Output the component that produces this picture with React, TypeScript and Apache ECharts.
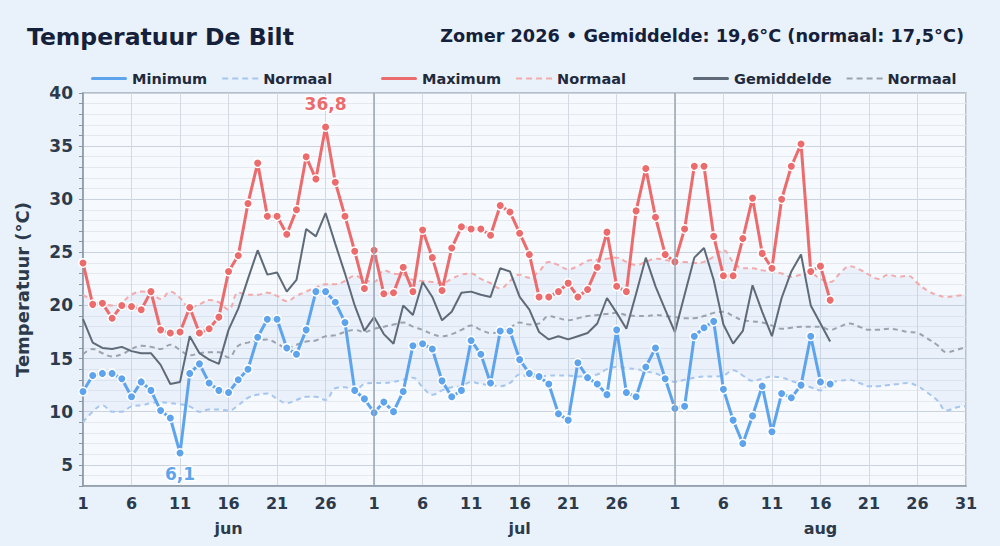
import React, { useEffect, useRef } from "react";
import * as echarts from "echarts";

const monthNames = ["jun", "jul", "aug"];
const monthLengths = [30, 31, 31];
const dayTickDays = [1, 6, 11, 16, 21, 26];
const yTickLabels = [5, 10, 15, 20, 25, 30, 35, 40];

const maxT = [
  24.0, 20.1, 20.2, 18.8, 20.0, 19.9, 19.6, 21.3, 17.7, 17.4, 17.5, 19.8, 17.4, 17.8, 18.9, 23.2, 24.7, 29.6, 33.4, 28.4, 28.4, 26.7, 29.0, 34.0, 31.9, 36.8, 31.6, 28.4, 25.1, 21.6,
  25.2, 21.1, 21.2, 23.6, 21.3, 27.1, 24.5, 21.4, 25.4, 27.4, 27.2, 27.2, 26.6, 29.4, 28.8, 26.8, 24.8, 20.8, 20.8, 21.3, 22.1, 20.8, 21.5, 23.6, 26.9, 21.8, 21.3, 28.9, 32.9, 28.3, 24.8,
  24.1, 27.2, 33.1, 33.1, 26.5, 22.8, 22.8, 26.3, 30.1, 24.9, 23.5, 30.0, 33.1, 35.2, 23.2, 23.7, 20.5,
];
const minT = [
  11.9, 13.4, 13.6, 13.6, 13.1, 11.4, 12.8, 12.0, 10.1, 9.4, 6.1, 13.6, 14.5, 12.7, 12.0, 11.8, 13.0, 14.0, 17.0, 18.7, 18.7, 16.0, 15.4, 17.7, 21.3, 21.3, 20.3, 18.4, 12.0, 11.2,
  9.9, 10.9, 10.0, 11.9, 16.2, 16.4, 15.9, 12.9, 11.4, 12.0, 16.7, 15.4, 12.7, 17.6, 17.6, 14.9, 13.6, 13.3, 12.6, 9.8, 9.2, 14.6, 13.2, 12.6, 11.6, 17.7, 11.8, 11.4, 14.2, 16.0, 13.1,
  10.3, 10.5, 17.1, 17.9, 18.5, 12.1, 9.2, 7.0, 9.6, 12.4, 8.1, 11.7, 11.3, 12.5, 17.1, 12.8, 12.6,
];
const avgT = [
  18.7, 16.5, 16.0, 15.9, 16.1, 15.7, 15.5, 15.5, 14.4, 12.6, 12.8, 17.1, 15.5, 14.9, 14.5, 17.7, 19.7, 22.5, 25.2, 22.9, 23.1, 21.3, 22.4, 27.2, 26.5, 28.7, 25.8, 23.0, 20.0, 17.6,
  18.9, 17.3, 16.4, 20.0, 19.1, 22.2, 20.8, 18.6, 19.4, 21.2, 21.3, 21.0, 20.8, 23.5, 23.2, 20.8, 19.6, 17.5, 16.8, 17.1, 16.8, 17.1, 17.4, 18.3, 20.7, 19.3, 17.8, 21.1, 24.5, 21.8, 19.6,
  17.5, 21.0, 24.5, 25.4, 22.4, 18.2, 16.4, 17.6, 21.9, 19.4, 17.1, 20.7, 23.2, 24.8, 20.0, 18.3, 16.6,
];
const normMax = [
  21.0, 20.5, 20.2, 20.0, 20.3, 21.0, 21.3, 21.2, 20.6, 21.3, 20.7, 19.8, 20.1, 20.5, 20.3, 19.6, 21.2, 21.0, 21.0, 21.2, 20.9, 20.4, 20.9, 21.3, 21.7, 22.0, 22.0, 22.3, 22.8, 22.4, 22.2,
  23.3, 23.0, 22.9, 22.4, 22.3, 22.2, 22.1, 22.5, 22.9, 23.0, 22.5, 22.1, 21.6, 22.3, 22.9, 22.6, 23.2, 24.1, 23.8, 23.4, 23.7, 24.2, 24.3, 24.4, 24.5, 24.1, 23.8, 24.1, 24.4, 24.3, 24.1,
  24.1, 24.0, 24.1, 24.6, 25.2, 24.1, 23.5, 23.5, 23.3, 23.2, 23.0, 22.7, 22.9, 23.0, 22.5, 22.2, 23.0, 23.7, 23.4, 22.9, 22.5, 22.9, 22.7, 22.8, 22.1, 21.4, 21.0, 20.8, 20.9, 21.0,
];
const normAvg = [
  15.4, 15.9, 15.5, 15.2, 15.4, 15.9, 16.2, 16.1, 15.9, 16.3, 15.8, 15.3, 15.5, 15.6, 15.6, 15.1, 16.2, 16.5, 16.7, 16.8, 16.4, 16.0, 16.3, 16.6, 16.7, 17.1, 17.2, 17.5, 17.7, 17.5, 17.8,
  18.0, 18.2, 18.4, 18.0, 17.7, 17.3, 17.1, 17.3, 17.7, 18.1, 17.7, 17.4, 17.5, 17.9, 18.4, 18.2, 18.3, 19.0, 18.8, 18.6, 18.8, 19.0, 19.1, 19.2, 19.3, 19.1, 19.0, 19.0, 19.1, 19.0, 18.9,
  18.8, 18.8, 19.0, 19.3, 19.4, 19.0, 18.6, 18.5, 18.4, 18.1, 17.8, 17.9, 18.0, 18.0, 18.0, 17.7, 18.0, 18.3, 18.0, 17.7, 17.7, 17.8, 17.7, 17.5, 17.4, 16.9, 16.3, 15.6, 15.8, 16.1,
];
const normMin = [
  9.0, 10.0, 10.6, 10.0, 10.0, 10.5, 10.6, 10.8, 10.9, 10.8, 10.7, 10.5, 10.0, 10.2, 10.2, 10.1, 10.6, 11.3, 11.6, 11.7, 11.2, 10.8, 11.1, 11.4, 11.4, 11.1, 12.2, 12.3, 12.0, 12.6, 12.7,
  12.7, 12.8, 13.0, 13.2, 12.3, 11.6, 12.0, 12.3, 12.4, 12.8, 12.6, 12.5, 12.4, 12.7, 13.5, 13.3, 13.3, 13.4, 13.4, 13.4, 13.3, 13.4, 13.5, 14.0, 14.2, 14.1, 14.0, 13.8, 13.6, 13.2, 12.8,
  13.0, 13.2, 13.3, 13.3, 13.4, 13.9, 13.4, 12.9, 13.1, 13.3, 13.2, 12.9, 12.6, 12.3, 12.0, 12.7, 12.9, 13.0, 12.7, 12.4, 12.4, 12.5, 12.6, 12.7, 12.4, 11.8, 11.1, 10.1, 10.4, 10.5,
];

const titleText = "Temperatuur De Bilt";
const subtitleText = "Zomer 2026 • Gemiddelde: 19,6°C (normaal: 17,5°C)";

const FONT = "DejaVu Sans";
const C_MAX = "#ec6b6d";
const C_MIN = "#5ea4ec";
const C_AVG = "#5f6a78";
const C_NMAX = "#f3aaab";
const C_NMIN = "#a6c6ee";
const C_NAVG = "#9aa3ae";
const C_TEXT = "#2c3a4c";

function fmt(v: number) {
  return v.toFixed(1).replace(".", ",");
}

export default function App() {
  const ref = useRef<HTMLDivElement>(null);
  useEffect(() => {
    document.body.style.margin = "0";
    if (!ref.current) return;
    const chart = echarts.init(ref.current, undefined, { renderer: "svg" });

    const cats: string[] = [];
    const monthStart: number[] = [];
    monthNames.forEach((m, mi) => {
      monthStart.push(cats.length);
      for (let d = 1; d <= monthLengths[mi]; d++) cats.push(m + "-" + d);
    });
    const lastIdx = cats.length - 1;
    const dayOf = (c: string) => Number(c.split("-")[1]);
    const monthMid = monthStart.map((s, i) => s + Math.floor(monthLengths[i] / 2));

    const maxIdx = maxT.indexOf(Math.max(...maxT));
    const minIdx = minT.indexOf(Math.min(...minT));

    const pointStyle = (color: string) => ({
      color,
      borderColor: "#ffffff",
      borderWidth: 1.5,
    });

    const peakLabel = (color: string, position: string, distance: number) => ({
      show: true,
      position,
      distance,
      formatter: (p: any) => fmt(p.value),
      color,
      fontFamily: FONT,
      fontWeight: "bold",
      fontSize: 17,
      textBorderColor: "#ffffff",
      textBorderWidth: 3,
    });

    const maxData = maxT.map((v, i) =>
      i === maxIdx ? { value: v, label: peakLabel(C_MAX, "top", 9) } : v
    );
    const minData = minT.map((v, i) =>
      i === minIdx ? { value: v, label: peakLabel(C_MIN, "bottom", 7) } : v
    );

    const solidIcon = "path://M1.5,0h33a1.5,1.5 0 0 1 0,3h-33a1.5,1.5 0 0 1 0,-3z";
    const dashIcon = "path://M0,0.5h6v2h-6z M10,0.5h6v2h-6z M20,0.5h6v2h-6z M30,0.5h6v2h-6z";
    const legendBase = {
      top: 66,
      itemWidth: 36,
      itemHeight: 3,
      itemGap: 15,
      itemStyle: { borderWidth: 0 },
      textStyle: { fontFamily: FONT, fontWeight: "bold", fontSize: 14.5, color: "#1f2a3c" },
      selectedMode: false,
    };

    const yTickSet = new Set(yTickLabels);

    const option: any = {
      animation: false,
      backgroundColor: "#e9f2fb",
      textStyle: { fontFamily: FONT },
      title: [
        {
          text: titleText,
          left: 22,
          top: 20,
          textStyle: { fontFamily: FONT, fontWeight: "bold", fontSize: 23.5, color: "#15203a" },
        },
        {
          text: subtitleText,
          right: 31,
          top: 22,
          textStyle: { fontFamily: FONT, fontWeight: "bold", fontSize: 17.7, color: "#15203a" },
        },
      ],
      legend: [
        {
          ...legendBase,
          left: 86,
          data: [
            { name: "Minimum", icon: solidIcon },
            { name: "Normaal ", icon: dashIcon },
          ],
        },
        {
          ...legendBase,
          left: 376,
          data: [
            { name: "Maximum", icon: solidIcon },
            { name: "Normaal  ", icon: dashIcon },
          ],
        },
        {
          ...legendBase,
          left: 688,
          data: [
            { name: "Gemiddelde", icon: solidIcon },
            { name: "Normaal", icon: dashIcon },
          ],
        },
      ],
      grid: {
        left: 83,
        right: 34,
        top: 93,
        bottom: 60,
        show: true,
        backgroundColor: "#f6f9fd",
        borderColor: "#a3aebb",
        borderWidth: 1.5,
      },
      xAxis: [
        {
          type: "category",
          data: cats,
          boundaryGap: false,
          axisLine: { lineStyle: { color: "#8896a7", width: 1.5 } },
          axisTick: { show: false },
          axisLabel: {
            interval: (idx: number, val: string) => dayTickDays.includes(dayOf(val)) || idx === lastIdx,
            formatter: (val: string) => String(dayOf(val)),
            fontFamily: FONT,
            fontWeight: "bold",
            fontSize: 16,
            color: C_TEXT,
            margin: 9,
          },
          splitLine: {
            show: true,
            interval: (idx: number, val: string) => dayTickDays.includes(dayOf(val)) || idx === lastIdx,
            lineStyle: { color: "#d3dae3", width: 1 },
          },
        },
        {
          type: "category",
          data: cats,
          boundaryGap: false,
          position: "bottom",
          offset: 26,
          axisLine: { show: false },
          axisTick: { show: false },
          splitLine: { show: false },
          axisLabel: {
            interval: (idx: number) => monthMid.includes(idx),
            formatter: (val: string) => val.split("-")[0],
            fontFamily: FONT,
            fontWeight: "bold",
            fontSize: 16,
            color: C_TEXT,
          },
        },
      ],
      yAxis: {
        type: "value",
        min: 3,
        max: 40,
        interval: 1,
        name: "Temperatuur (°C)",
        nameLocation: "middle",
        nameGap: 52,
        nameTextStyle: { fontFamily: FONT, fontWeight: "bold", fontSize: 18, color: C_TEXT },
        axisLine: { show: true, lineStyle: { color: "#8896a7", width: 1.5 } },
        axisTick: { show: true, length: 4, lineStyle: { color: "#8896a7" } },
        axisLabel: {
          formatter: (v: number) => (yTickSet.has(v) ? String(v) : ""),
          fontFamily: FONT,
          fontWeight: "bold",
          fontSize: 17,
          color: C_TEXT,
          margin: 10,
        },
        splitLine: {
          show: true,
          lineStyle: {
            color: ["#e4e9f0", "#e4e9f0", "#c9d2dd", "#e4e9f0", "#e4e9f0"],
            width: 1,
          },
        },
      },
      series: [
        {
          name: "bandBase",
          type: "line",
          data: normMin,
          stack: "band",
          smooth: 0.4,
          symbol: "none",
          lineStyle: { opacity: 0 },
          silent: true,
          z: 1,
        },
        {
          name: "bandFill",
          type: "line",
          data: normMax.map((v, i) => +(v - normMin[i]).toFixed(2)),
          stack: "band",
          smooth: 0.4,
          symbol: "none",
          lineStyle: { opacity: 0 },
          areaStyle: { color: "rgba(140,185,235,0.16)" },
          silent: true,
          z: 1,
          markLine: {
            silent: true,
            symbol: "none",
            label: { show: false },
            lineStyle: { color: "#9aa6b4", width: 1.5, type: "solid" },
            data: monthStart.slice(1).map((s) => ({ xAxis: cats[s] })),
          },
        },
        {
          name: "Normaal ",
          type: "line",
          data: normMin,
          smooth: 0.4,
          symbol: "none",
          color: C_NMIN,
          lineStyle: { color: C_NMIN, width: 2, type: [5, 4] },
          z: 2,
        },
        {
          name: "Normaal  ",
          type: "line",
          data: normMax,
          smooth: 0.4,
          symbol: "none",
          color: C_NMAX,
          lineStyle: { color: C_NMAX, width: 2, type: [5, 4] },
          z: 2,
        },
        {
          name: "Normaal",
          type: "line",
          data: normAvg,
          smooth: 0.4,
          symbol: "none",
          color: C_NAVG,
          lineStyle: { color: C_NAVG, width: 2, type: [5, 4] },
          z: 2,
        },
        {
          name: "Gemiddelde",
          type: "line",
          data: avgT,
          symbol: "none",
          color: C_AVG,
          lineStyle: { color: C_AVG, width: 2 },
          z: 3,
        },
        {
          name: "Minimum",
          type: "line",
          data: minData,
          symbol: "circle",
          symbolSize: 8.5,
          showAllSymbol: true,
          color: C_MIN,
          itemStyle: pointStyle(C_MIN),
          lineStyle: { color: C_MIN, width: 3 },
          z: 4,
        },
        {
          name: "Maximum",
          type: "line",
          data: maxData,
          symbol: "circle",
          symbolSize: 8.5,
          showAllSymbol: true,
          color: C_MAX,
          itemStyle: pointStyle(C_MAX),
          lineStyle: { color: C_MAX, width: 3 },
          z: 4,
        },
      ],
    };
    chart.setOption(option);
    return () => chart.dispose();
  }, []);
  return <div ref={ref} style={{ width: 1000, height: 546 }} />;
}
